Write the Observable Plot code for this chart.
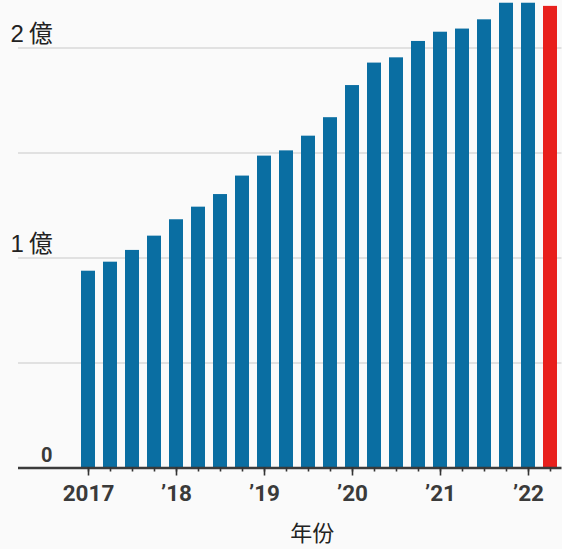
<!DOCTYPE html>
<html>
<head>
<meta charset="utf-8">
<script src="https://cdn.jsdelivr.net/npm/d3@7"></script>
<script src="https://cdn.jsdelivr.net/npm/@observablehq/plot@0.6"></script>
<style>
  html, body { margin: 0; padding: 0; background: #fafafa; }
  #chart svg { display: block; }
</style>
</head>
<body>
<div id="chart"></div>
<script>
// Quarterly values, in 億 (hundreds of millions)
const quarters = ["2017Q1","2017Q2","2017Q3","2017Q4","2018Q1","2018Q2","2018Q3","2018Q4",
  "2019Q1","2019Q2","2019Q3","2019Q4","2020Q1","2020Q2","2020Q3","2020Q4",
  "2021Q1","2021Q2","2021Q3","2021Q4","2022Q1","2022Q2"];
const values = [0.937, 0.980, 1.036, 1.104, 1.182, 1.242, 1.302, 1.390,
  1.485, 1.510, 1.580, 1.668, 1.821, 1.928, 1.953, 2.031,
  2.075, 2.090, 2.134, 2.213, 2.213, 2.198];
const highlightQuarter = "2022Q2";
const yearTicks = ["2017Q1","2018Q1","2019Q1","2020Q1","2021Q1","2022Q1"];
const yearLabels = ["2017","’18","’19","’20","’21","’22"];
const gridValues = [0.5, 1, 1.5, 2];
const yLabelValues = [1, 2];
const yLabelTexts = ["1\u2009億", "2\u2009億"];
const xTitle = "年份";

const data = quarters.map((q, i) => ({q, v: values[i]}));
const BLUE = "#0a6ea2", RED = "#e8201c";
const tickFont = "'Roboto', 'Liberation Sans', sans-serif";
const cjk = "'Liberation Sans', 'Noto Sans CJK SC', sans-serif";

const chart = Plot.plot({
  width: 562,
  height: 549,
  marginLeft: 76,
  marginRight: 0.5,
  marginTop: 0,
  marginBottom: 81.5,
  style: {background: "#fafafa", overflow: "visible"},
  x: {type: "band", domain: quarters, paddingInner: 0.36, paddingOuter: 0.18, label: null},
  y: {domain: [0, 2.226], axis: null},
  marks: [
    Plot.ruleY(gridValues, {stroke: "#d9d9d9", strokeWidth: 1.5, insetLeft: -58}),
    Plot.barY(data, {x: "q", y: "v", fill: d => d.q === highlightQuarter ? RED : BLUE}),
    Plot.ruleY([0], {stroke: "#3b3b3b", strokeWidth: 2.5, insetLeft: -58}),
    Plot.axisX({tickSize: 4, tickFormat: () => "", stroke: "#333", strokeWidth: 1.6, label: null}),
    Plot.axisX({ticks: yearTicks, tickSize: 8, tickPadding: 9, stroke: "#333", strokeWidth: 1.6,
      tickFormat: d => yearLabels[yearTicks.indexOf(d)],
      fontSize: 22.5, fontWeight: "bold", fontFamily: tickFont, fill: "#3a3a3a", label: null}),
    Plot.text(yLabelValues, {y: d => d, text: (d, i) => yLabelTexts[i], frameAnchor: "left",
      dx: -66, dy: -6, textAnchor: "start", lineAnchor: "bottom",
      fontSize: 24, fontFamily: cjk, fill: "#222"}),
    Plot.text([0], {y: d => d, text: () => "0", frameAnchor: "left",
      dx: -35.5, dy: -6, textAnchor: "start", lineAnchor: "bottom",
      fontSize: 20, fontWeight: "bold", fontFamily: tickFont, fill: "#3a3a3a"}),
    Plot.text([xTitle], {text: d => d, frameAnchor: "bottom", dx: -7, dy: 65.5,
      lineAnchor: "middle", fontSize: 22, fontFamily: "'Noto Sans CJK SC', sans-serif", fill: "#222"})
  ]
});
document.getElementById("chart").append(chart);
</script>
</body>
</html>
